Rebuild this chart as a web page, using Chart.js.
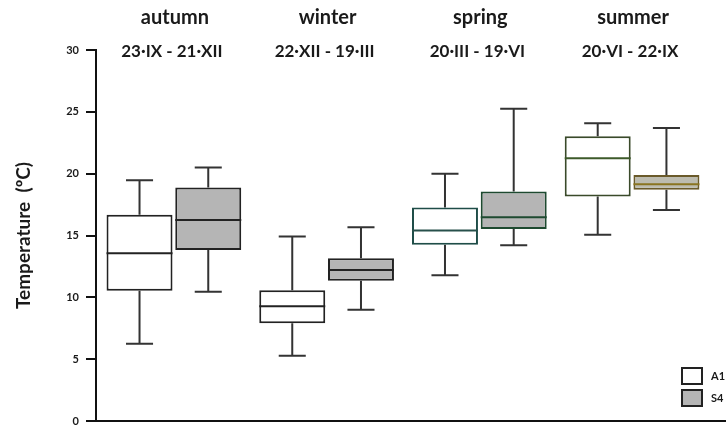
<!DOCTYPE html>
<html>
<head>
<meta charset="utf-8">
<script src="https://cdn.jsdelivr.net/npm/chart.js@4.4.1/dist/chart.umd.min.js"></script>
<style>
    html, body { margin: 0; padding: 0; background: #fff; }
    #wrap { width: 726px; height: 427px; }
</style>
</head>
<body>
<div id="wrap"><canvas id="graph1"></canvas></div>
<script>
/*
    seasonal temperature box plot, A1 vs S4
*/
const seasons = ["autumn", "winter", "spring", "summer"];
const periods = ["23·IX - 21·XII", "22·XII - 19·III", "20·III - 19·VI", "20·VI - 22·IX"];

// A1 (white boxes)
const a1Min    = [6.25, 5.28, 11.79, 15.07];
const a1Q1     = [10.54, 7.90, 14.26, 18.15];
const a1Median = [13.57, 9.28, 15.40, 21.25];
const a1Q3     = [16.67, 10.57, 17.26, 23.03];
const a1Max    = [19.47, 14.91, 20.00, 24.08];

// S4 (grey boxes)
const s4Min    = [10.46, 9.00, 14.21, 17.07];
const s4Q1     = [13.83, 11.35, 15.53, 18.69];
const s4Median = [16.26, 12.22, 16.48, 19.15];
const s4Q3     = [18.88, 13.16, 18.55, 19.90];
const s4Max    = [20.50, 15.67, 25.24, 23.70];

const yTicks = [0, 5, 10, 15, 20, 25, 30];

const fontName = "Lato, 'Open Sans', sans-serif";

// stats per dataset, used by the whisker plugin
const stats = [
    { min: a1Min, med: a1Median, max: a1Max, medColor: ["#222", "#222", "#27504b", "#3d5a2a"] },
    { min: s4Min, med: s4Median, max: s4Max, medColor: ["#222", "#222", "#1e4a30", "#8a7420"] }
];

const whiskers = {
    id: "whiskers",
    beforeDatasetsDraw(chart) {
        const ctx = chart.ctx;
        const ys = chart.scales.y;
        ctx.save();
        ctx.strokeStyle = "#333";
        ctx.lineWidth = 2;
        for (let d = 0; d < stats.length; d++) {
            const meta = chart.getDatasetMeta(d);
            meta.data.forEach(function(bar, i) {
                const cap = bar.width * 0.41;
                const lo = chart.data.datasets[d].data[i].y[0];
                const hi = chart.data.datasets[d].data[i].y[1];
                const pairs = [[hi, stats[d].max[i]], [lo, stats[d].min[i]]];
                pairs.forEach(function(p) {
                    const y0 = ys.getPixelForValue(p[0]);
                    const y1 = ys.getPixelForValue(p[1]);
                    ctx.beginPath();
                    ctx.moveTo(bar.x, y0);
                    ctx.lineTo(bar.x, y1);
                    ctx.moveTo(bar.x - cap / 2, y1);
                    ctx.lineTo(bar.x + cap / 2, y1);
                    ctx.stroke();
                });
            });
        }
        ctx.restore();
    },
    afterDatasetsDraw(chart) {
        const ctx = chart.ctx;
        const ys = chart.scales.y;
        ctx.save();
        ctx.lineWidth = 2;
        for (let d = 0; d < stats.length; d++) {
            const meta = chart.getDatasetMeta(d);
            meta.data.forEach(function(bar, i) {
                const y = ys.getPixelForValue(stats[d].med[i]);
                ctx.strokeStyle = stats[d].medColor[i];
                ctx.beginPath();
                ctx.moveTo(bar.x - bar.width / 2, y);
                ctx.lineTo(bar.x + bar.width / 2, y);
                ctx.stroke();
            });
        }
        ctx.restore();
    }
};

// season names + date ranges above the plot, and the small legend at bottom right
const labelsAndLegend = {
    id: "labelsAndLegend",
    afterDraw(chart) {
        const ctx = chart.ctx;
        const xs = chart.scales.x;
        ctx.save();
        ctx.fillStyle = "#1a1a1a";
        ctx.textAlign = "center";
        ctx.textBaseline = "middle";
        for (let i = 0; i < seasons.length; i++) {
            const x = xs.getPixelForValue(i + 1);
            ctx.font = "bold 20px " + fontName;
            ctx.fillText(seasons[i], x + 1, 18);
            ctx.font = "bold 17px " + fontName;
            ctx.fillText(periods[i], x - 2, 52);
        }

        // legend
        ctx.font = "bold 11px " + fontName;
        ctx.textAlign = "left";
        chart.data.datasets.forEach(function(ds, d) {
            const top = 368 + d * 22;
            ctx.fillStyle = ds.backgroundColor[0];
            ctx.strokeStyle = "#222";
            ctx.lineWidth = 2;
            ctx.fillRect(682, top, 20, 16);
            ctx.strokeRect(682, top, 20, 16);
            ctx.fillStyle = "#1a1a1a";
            ctx.fillText(ds.label, 711, top + 8);
        });
        ctx.restore();
    }
};

const g1 = new Chart("graph1", {
    type: "bar",
    data: {
        datasets: [{
            label: "A1",
            data: seasons.map((s, i) => ({ x: i + 1, y: [a1Q1[i], a1Q3[i]] })),
            backgroundColor: ["#ffffff", "#ffffff", "#ffffff", "#ffffff"],
            borderColor: ["#222", "#222", "#1f4d48", "#3a4a2a"],
            borderWidth: 2,
            borderSkipped: false
            },
            {
            label: "S4",
            data: seasons.map((s, i) => ({ x: i + 1, y: [s4Q1[i], s4Q3[i]] })),
            backgroundColor: ["#b5b5b5", "#b5b5b5", "#b5b5b5", "#bdbcb0"],
            borderColor: ["#222", "#222", "#1e4a30", "#6a5a2a"],
            borderWidth: 2,
            borderSkipped: false
            }]
    },
    options: {
        responsive: true,
        maintainAspectRatio: false,
        animation: false,
        categoryPercentage: 0.9,
        barPercentage: 0.96,
        layout: { padding: { top: 50, right: 0, bottom: 6, left: 0 } },
        plugins: {
            legend: { display: false },
            tooltip: { enabled: false }
        },
        scales: {
            x: {
                type: "linear",
                offset: false,
                min: 0.49,
                max: 4.615,
                afterBuildTicks: (s) => { s.ticks = seasons.map((n, i) => ({ value: i + 1 })); },
                afterFit: (s) => { s.height = 0; },
                ticks: { display: false },
                grid: { display: false, offset: false },
                border: { color: "#111", width: 2 }
            },
            y: {
                min: 0,
                max: 30,
                afterBuildTicks: (s) => { s.ticks = yTicks.map(v => ({ value: v })); },
                afterFit: (s) => { s.width = 96; s.paddingTop = 0; s.paddingBottom = 0; },
                ticks: {
                    color: "#1a1a1a",
                    padding: 7,
                    font: { family: fontName, size: 11, weight: "bold" }
                },
                grid: { drawOnChartArea: false, drawTicks: true, tickLength: 10, color: "#111", lineWidth: 2 },
                border: { color: "#111", width: 2 },
                title: {
                    display: true,
                    text: "Temperature  (ºC)",
                    color: "#1a1a1a",
                    padding: { top: 12, bottom: 0 },
                    font: { family: fontName, size: 19, weight: "bold" }
                }
            }
        }
    },
    plugins: [whiskers, labelsAndLegend]
});
</script>
</body>
</html>
